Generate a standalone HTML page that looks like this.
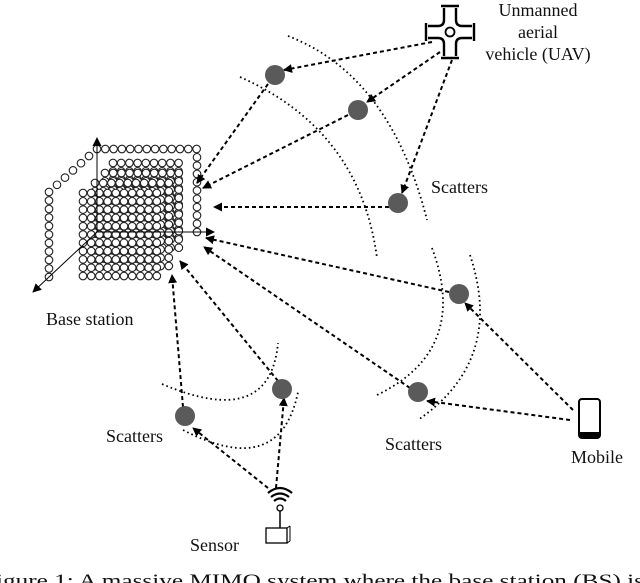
<!DOCTYPE html>
<html><head><meta charset="utf-8"><style>
html,body{margin:0;padding:0;background:#fff;width:640px;height:583px;overflow:hidden}
svg{display:block}
text{font-family:"Liberation Serif",serif;fill:#111}
</style></head><body>
<svg id="s" width="640" height="583" viewBox="0 0 640 583">
<defs>
<marker id="a" markerWidth="9" markerHeight="9" refX="8" refY="4.5" orient="auto" markerUnits="userSpaceOnUse">
<path d="M0,0 L9,4.5 L0,9 Z" fill="#000"/></marker>
</defs>
<g id="grid" stroke="#222" stroke-width="1.1" fill="#fff"></g>
<g stroke="#000" stroke-width="1" fill="none">
<line x1="97" y1="232" x2="97" y2="138" marker-end="url(#a)"/>
<line x1="97" y1="232" x2="214" y2="232" marker-end="url(#a)"/>
<line x1="97" y1="232" x2="33" y2="292" marker-end="url(#a)"/>
</g>
<g stroke="#000" stroke-width="1.8" fill="none" stroke-dasharray="1.6,3">
<path d="M288,36 Q390,75 427,220"/>
<path d="M240,77 Q360,130 377,258"/>
<path d="M432,248 Q470,350 377,395"/>
<path d="M470,255 Q505,360 418,420"/>
<path d="M162,384 Q270,430 278,343"/>
<path d="M183,430 Q280,480 298,392"/>
</g>
<g stroke="#000" stroke-width="2" fill="none" stroke-dasharray="4,3" marker-end="url(#a)">
<line x1="432" y1="42" x2="284" y2="70"/>
<line x1="440" y1="52" x2="367" y2="102"/>
<line x1="452" y1="60" x2="402" y2="193"/>
<line x1="268" y1="84" x2="197" y2="183"/>
<line x1="348" y1="115" x2="203" y2="188"/>
<line x1="389" y1="207" x2="214" y2="207"/>
<line x1="449" y1="292" x2="206" y2="238"/>
<line x1="410" y1="388" x2="204" y2="247"/>
<line x1="278" y1="381" x2="180" y2="261"/>
<line x1="183" y1="407" x2="172" y2="275"/>
<line x1="573" y1="410" x2="465" y2="303"/>
<line x1="570" y1="420" x2="427" y2="401"/>
<line x1="276" y1="488" x2="284" y2="398"/>
<line x1="268" y1="488" x2="193" y2="428"/>
</g>
<g fill="#5a5a5a">
<circle cx="275" cy="75" r="10"/><circle cx="358" cy="110" r="10"/><circle cx="398" cy="203" r="10"/>
<circle cx="459" cy="294" r="10"/><circle cx="418" cy="392" r="10"/><circle cx="282" cy="389" r="10"/>
<circle cx="185" cy="416" r="10"/>
</g>
<g stroke="#000" stroke-width="2.4" fill="none">
<path d="M444,8 L444,20 Q444,26 438,26 L428,26 M456,8 L456,20 Q456,26 462,26 L472,26 M444,56 L444,44 Q444,38 438,38 L428,38 M456,56 L456,44 Q456,38 462,38 L472,38"/>
<line x1="441" y1="6" x2="459" y2="6"/><line x1="441" y1="58" x2="459" y2="58"/>
<line x1="426" y1="23" x2="426" y2="41"/><line x1="474" y1="23" x2="474" y2="41"/>
<circle cx="450" cy="32" r="4.5" stroke-width="1.8"/>
</g>
<rect x="579" y="399" width="21" height="39" rx="3" fill="none" stroke="#000" stroke-width="2"/>
<rect x="580" y="432" width="19" height="5" fill="#000"/>
<g stroke="#000" fill="none" stroke-width="2.2">
<path d="M268,493 Q280,483 292,493"/><path d="M271,497 Q280,490 289,497"/><path d="M274,501 Q280,496 286,501"/>
<circle cx="280" cy="508" r="3" stroke-width="1.3"/>
<line x1="280" y1="511" x2="280" y2="528" stroke-width="1.5"/>
<rect x="266" y="528" width="21" height="15" stroke-width="1.3"/>
<line x1="287" y1="528" x2="290" y2="526" stroke-width="1"/><line x1="290" y1="526" x2="290" y2="541" stroke-width="1"/><line x1="287" y1="543" x2="290" y2="541" stroke-width="1"/>
</g>
<g font-size="18">
<text x="538" y="16" text-anchor="middle">Unmanned</text>
<text x="538" y="38" text-anchor="middle">aerial</text>
<text x="538" y="60" text-anchor="middle">vehicle (UAV)</text>
<text x="431" y="193">Scatters</text>
<text x="46" y="325">Base station</text>
<text x="106" y="442">Scatters</text>
<text x="385" y="450">Scatters</text>
<text x="571" y="463">Mobile</text>
<text x="190" y="551">Sensor</text>
<text x="-4" y="587" font-size="19" textLength="648" lengthAdjust="spacingAndGlyphs">igure 1: A massive MIMO system where the base station (BS) is</text>
</g>
</svg>
<script>
var g=document.getElementById('grid'),ns='http://www.w3.org/2000/svg';
function c(x,y,r){var e=document.createElementNS(ns,'circle');e.setAttribute('cx',x);e.setAttribute('cy',y);e.setAttribute('r',r||3.8);g.appendChild(e);}
for(var i=0;i<13;i++)c(97+i*8.3,149);
for(var j=1;j<11;j++)c(197,149+j*8.3);
for(var j=0;j<11;j++)c(49,192+j*8.5);
for(var k=1;k<6;k++)c(49+k*8,192-k*7.2);
var layers=[[113,163,9,10],[105,173,10,10],[95,183,10,11],[83,193,10,11]];
layers.forEach(function(L){for(var r=0;r<L[3];r++)for(var q=0;q<L[2];q++)c(L[0]+q*8.2,L[1]+r*8.3);});
</script>
</body></html>
